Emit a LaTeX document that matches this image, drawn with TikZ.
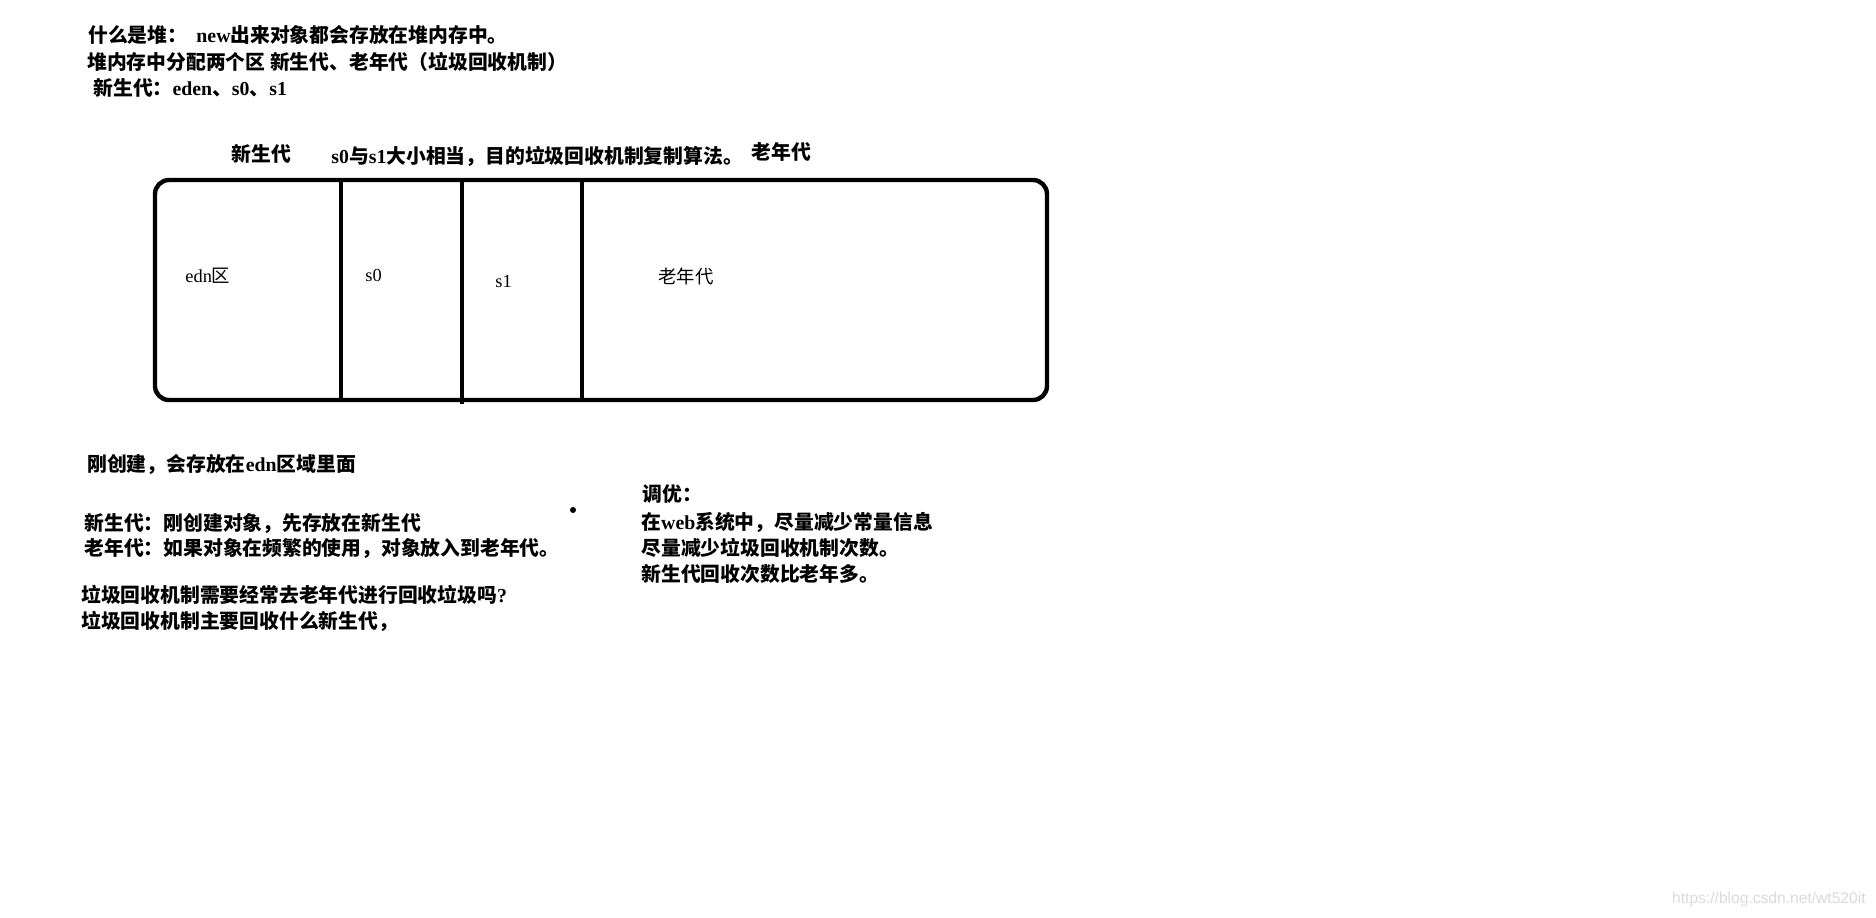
\documentclass[tikz,border=0pt]{standalone}
\usepackage{fontspec}
\setmainfont{Liberation Serif}
\newfontfamily\cjkfont{Noto Sans CJK SC}
\newfontfamily\wmfont{Liberation Sans}
\begin{document}
\begin{tikzpicture}[x=0.5pt,y=-0.5pt,
  txt/.style={anchor=west,inner sep=0pt,font=\fontsize{9.9}{11}\selectfont\bfseries},
  boxtxt/.style={anchor=west,inner sep=0pt,font=\fontsize{9.2}{11}\selectfont},
  boxline/.style={line width=2.2pt},
  wm/.style={anchor=east,inner sep=0pt,text=black!14,font=\wmfont\fontsize{7.8}{9}\selectfont}]
\useasboundingbox[fill=white] (0,0) rectangle (1876,917);
% header lines
\node[txt] (l1) at (88,35) {\cjkfont 什么是堆：\ \ {\rmfamily new}出来对象都会存放在堆内存中。};
\node[txt] (l2) at (87,62) {\cjkfont 堆内存中分配两个区 新生代、老年代（垃圾回收机制）};
\node[txt] (l3) at (93,88) {{\cjkfont 新生代：}eden{\cjkfont 、}s0{\cjkfont 、}s1};
% labels above box
\node[txt] (young) at (231,154) {\cjkfont 新生代};
\node[txt] (note) at (331,156) {s0{\cjkfont 与}s1{\cjkfont 大小相当，目的垃圾回收机制复制算法。}};
\node[txt] (oldlbl) at (751,152) {\cjkfont 老年代};
% the heap box
\coordinate (tl) at (155,180);
\coordinate (br) at (1047,400);
\draw[boxline,rounded corners=7pt] (tl) rectangle (br);
\coordinate (d1t) at (341,180); \coordinate (d1b) at (341,400);
\coordinate (d2t) at (462,180); \coordinate (d2b) at (462,404);
\coordinate (d3t) at (582,180); \coordinate (d3b) at (582,400);
\draw[boxline] (d1t) -- (d1b);
\draw[boxline] (d2t) -- (d2b);
\draw[boxline] (d3t) -- (d3b);
\node[boxtxt] (eden) at (185,276) {edn{\cjkfont 区}};
\node[boxtxt] (s0) at (365,275) {s0};
\node[boxtxt] (s1) at (495,282) {s1};
\node[boxtxt] (old) at (658,276) {\cjkfont 老年代};
% lower left text
\node[txt] (c1) at (87,464) {{\cjkfont 刚创建，会存放在}edn{\cjkfont 区域里面}};
\fill (573,510) circle (3);
\node[txt] (c2) at (84,523) {\cjkfont 新生代：刚创建对象，先存放在新生代};
\node[txt] (c3) at (84,549) {\cjkfont 老年代：如果对象在频繁的使用，对象放入到老年代。};
\node[txt] (c4) at (81,595) {{\cjkfont 垃圾回收机制需要经常去老年代进行回收垃圾吗}?};
\node[txt] (c5) at (81,621) {\cjkfont 垃圾回收机制主要回收什么新生代，};
% lower right text
\node[txt] (t0) at (642,494) {\cjkfont 调优：};
\node[txt] (t1) at (641,522) {{\cjkfont 在}web{\cjkfont 系统中，尽量减少常量信息}};
\node[txt] (t2) at (641,548) {\cjkfont 尽量减少垃圾回收机制次数。};
\node[txt] (t3) at (641,574) {\cjkfont 新生代回收次数比老年多。};
% watermark
\node[wm] (wmark) at (1866,899) {https://blog.csdn.net/wt520it};
\end{tikzpicture}
\end{document}
